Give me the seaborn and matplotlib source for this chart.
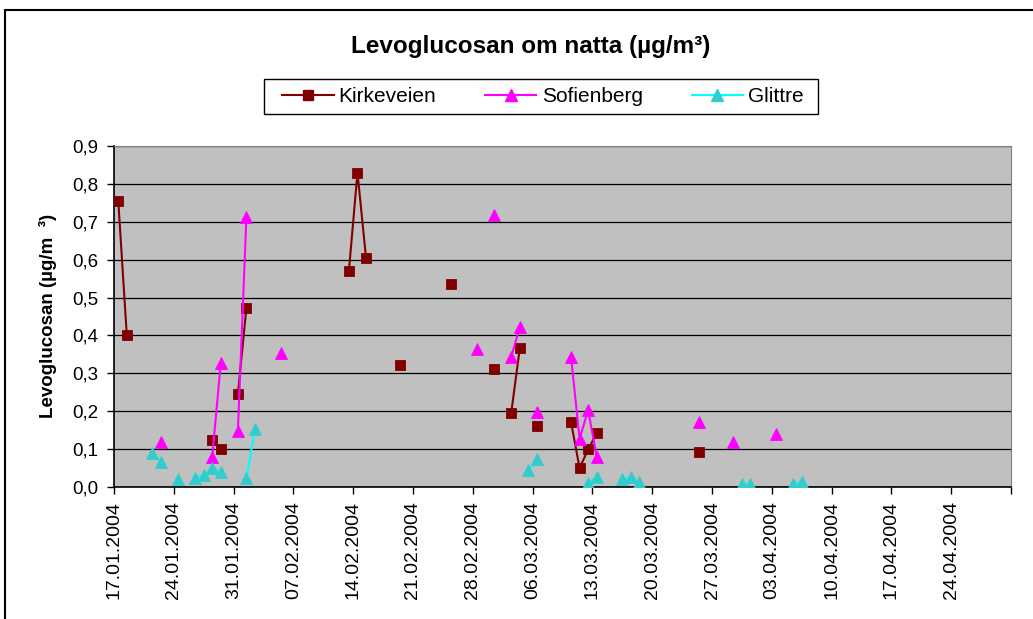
import pandas as pd
import numpy as np
import matplotlib
matplotlib.use("Agg")
import matplotlib.pyplot as plt
from matplotlib.lines import Line2D
from matplotlib.patches import Rectangle
import seaborn as sns

# --- data (dd.mm, year 2004) ---
kirke_dates = ["17.01", "18.01", "28.01", "29.01", "31.01", "01.02", "13.02", "14.02",
               "15.02", "19.02", "25.02", "01.03", "03.03", "04.03", "06.03", "10.03",
               "11.03", "12.03", "13.03", "25.03"]
kirke_vals = [0.755, 0.400, 0.124, 0.099, 0.245, 0.473, 0.571, 0.830,
              0.605, 0.322, 0.536, 0.312, 0.196, 0.366, 0.162, 0.171,
              0.050, 0.099, 0.142, 0.093]

sofie_dates = ["22.01", "28.01", "29.01", "31.01", "01.02", "05.02", "28.02", "01.03",
               "03.03", "04.03", "06.03", "10.03", "11.03", "12.03", "13.03", "25.03",
               "29.03", "03.04"]
sofie_vals = [0.120, 0.080, 0.328, 0.148, 0.713, 0.353, 0.363, 0.718,
              0.344, 0.421, 0.197, 0.344, 0.127, 0.203, 0.080, 0.172,
              0.120, 0.139]

glit_dates = ["21.01", "22.01", "24.01", "26.01", "27.01", "28.01", "29.01", "01.02",
              "02.02", "05.03", "06.03", "12.03", "13.03", "16.03", "17.03", "18.03",
              "30.03", "31.03", "05.04", "06.04"]
glit_vals = [0.089, 0.065, 0.021, 0.025, 0.032, 0.049, 0.040, 0.023,
             0.152, 0.045, 0.073, 0.010, 0.026, 0.021, 0.026, 0.012,
             0.007, 0.007, 0.009, 0.013]

tick_dates = pd.date_range("2004-01-17", "2004-04-24", freq="7D")

series = [
    ("Kirkeveien", kirke_dates, kirke_vals, "#800000", "#800000", "s", 7.5),
    ("Sofienberg", sofie_dates, sofie_vals, "#FF00FF", "#FF00FF", "^", 9),
    ("Glittre", glit_dates, glit_vals, "#00FFFF", "#33CCCC", "^", 9),
]


def to_frame(name, dates, vals):
    d = pd.to_datetime([x + ".2004" for x in dates], format="%d.%m.%Y")
    df = pd.DataFrame({"date": d, "value": vals, "site": name})
    # Excel only joins points on consecutive days
    df["seg"] = (df["date"].diff().dt.days.fillna(1) > 1).cumsum()
    # Excel date axis centres each point inside its day
    df["x"] = df["date"] + pd.Timedelta(hours=12)
    return df


plt.rcParams["font.family"] = ["Liberation Sans", "DejaVu Sans"]

fig = plt.figure(figsize=(10.33, 6.19), dpi=100)
ax = fig.add_axes([114 / 1033, 1 - 487 / 619, 897 / 1033, 341 / 619])
ax.set_facecolor("#C0C0C0")

for name, dates, vals, lc, mc, mk, ms in series:
    df = to_frame(name, dates, vals)
    sns.lineplot(data=df, x="x", y="value", units="seg", estimator=None,
                 color=lc, marker=mk, markersize=ms, markerfacecolor=mc,
                 markeredgecolor=mc, markeredgewidth=0.6, linewidth=1.5,
                 ax=ax, zorder=3)

ax.set_xlim(pd.Timestamp("2004-01-17"), pd.Timestamp("2004-05-01"))
ax.set_ylim(0, 0.9)
yt = np.arange(0, 0.91, 0.1)
ax.set_yticks(yt)
ax.set_yticklabels([f"{v:.1f}".replace(".", ",") for v in yt], fontsize=13.5)
ax.set_xticks(list(tick_dates) + [pd.Timestamp("2004-05-01")])
ax.set_xticklabels([d.strftime("%d.%m.%Y") for d in tick_dates] + [""],
                   rotation=90, fontsize=14)
ax.tick_params(axis="both", direction="out", length=5, width=1, color="black")
ax.tick_params(axis="x", pad=5)
ax.tick_params(axis="y", pad=6)
ax.grid(axis="y", color="black", linewidth=0.9)
ax.set_axisbelow(True)
ax.set_xlabel("")
ax.set_ylabel("")
for s in ["top", "right"]:
    ax.spines[s].set_color("#808080")
for s in ["left", "bottom"]:
    ax.spines[s].set_color("black")
    ax.spines[s].set_linewidth(1.2)

fig.text(531 / 1033, 1 - 47 / 619, "Levoglucosan om natta (µg/m³)",
         ha="center", va="center", fontsize=17.5, fontweight="bold")
fig.text(48 / 1033, 1 - 316 / 619, "Levoglucosan (µg/m  ³)",
         ha="center", va="center", rotation=90, fontsize=13.5, fontweight="bold")

handles = [Line2D([], [], color=lc, marker=mk, markersize=ms, markerfacecolor=mc,
                  markeredgecolor=mc, linewidth=1.5)
           for name, dates, vals, lc, mc, mk, ms in series]
leg = fig.legend(handles, [s[0] for s in series], loc="center",
                 bbox_to_anchor=(543 / 1033, 1 - 96.5 / 619), ncol=3,
                 fontsize=15, frameon=False,
                 handlelength=2.45, handletextpad=0.25, columnspacing=2.35,
                 borderpad=0.2)

# legend box and outer chart border, as drawn by Excel
fig.patches.append(Rectangle((264 / 1033, 1 - 114 / 619), 554 / 1033, 35 / 619,
                             transform=fig.transFigure, fill=False,
                             edgecolor="black", linewidth=1.0))
fig.patches.append(Rectangle((5 / 1033, -0.1), 1.2, 0.1 + 1 - 10 / 619,
                             transform=fig.transFigure, fill=False,
                             edgecolor="black", linewidth=1.5))

fig.savefig("out.png", dpi=100)
